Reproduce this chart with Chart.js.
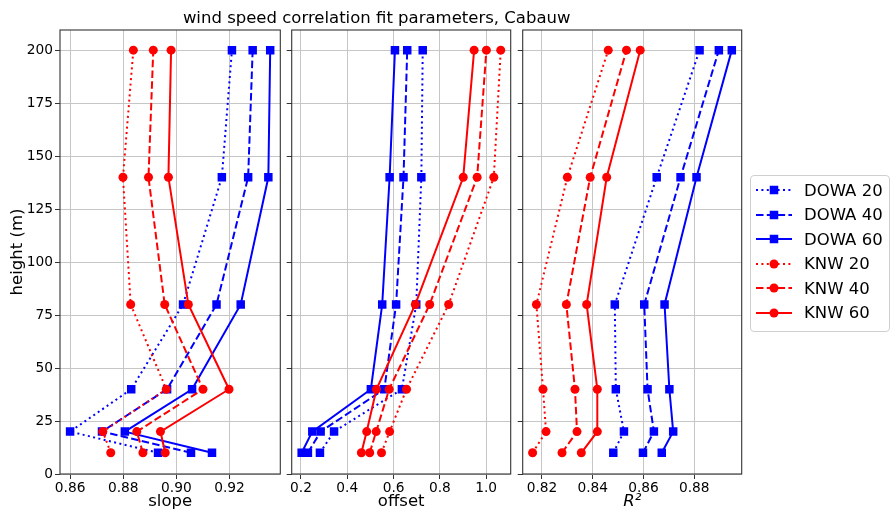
<!DOCTYPE html>
<html>
<head>
<meta charset="utf-8">
<script src="https://cdn.jsdelivr.net/npm/chart.js@4/dist/chart.umd.min.js"></script>
<style>
    body { margin: 0; background: #fff; font-family: "DejaVu Sans", sans-serif; }
    #page { position: relative; width: 891px; height: 515px; overflow: hidden; }
    #page canvas { position: absolute; left: 0; top: 0; }
    #title {
        position: absolute; left: 176.7px; width: 400px; top: 7.6px;
        text-align: center; font-size: 16.5px; line-height: 20px; color: #000;
    }
    #legend {
        position: absolute; left: 750px; top: 175px; width: 138px; height: 153px;
        border: 1px solid #cfcfcf; border-radius: 4px; padding-top: 2px; box-sizing: content-box;
    }
    .row { display: flex; align-items: center; height: 24.5px; padding-left: 5px; }
    .row svg { width: 36px; height: 14px; margin-right: 12px; }
    .row span { font-size: 16.5px; color: #000; }
</style>
</head>
<body>
<div id="page">
    <canvas id="slopeChart" width="891" height="515"></canvas>
    <canvas id="offsetChart" width="891" height="515"></canvas>
    <canvas id="r2Chart" width="891" height="515"></canvas>
    <div id="title">wind speed correlation fit parameters, Cabauw</div>
    <div id="legend"></div>
</div>
<script>
// ===============================
//  DATA
// ===============================
const heights = [10, 20, 40, 80, 140, 200];

const slopeDowa20 = [0.8931, 0.8600, 0.8830, 0.9025, 0.9171, 0.9209];
const slopeDowa40 = [0.9055, 0.8720, 0.8965, 0.9151, 0.9270, 0.9287];
const slopeDowa60 = [0.9134, 0.8806, 0.9059, 0.9242, 0.9346, 0.9353];
const slopeKnw20  = [0.8753, 0.8723, 0.8962, 0.8828, 0.8799, 0.8838];
const slopeKnw40  = [0.8874, 0.8851, 0.9100, 0.8956, 0.8895, 0.8913];
const slopeKnw60  = [0.8958, 0.8940, 0.9198, 0.9045, 0.8970, 0.8980];

const offsetDowa20 = [0.282, 0.343, 0.636, 0.698, 0.720, 0.726];
const offsetDowa40 = [0.230, 0.285, 0.560, 0.611, 0.643, 0.659];
const offsetDowa60 = [0.203, 0.249, 0.502, 0.551, 0.583, 0.606];
const offsetKnw20  = [0.548, 0.583, 0.656, 0.838, 1.033, 1.063];
const offsetKnw40  = [0.497, 0.525, 0.581, 0.756, 0.961, 1.001];
const offsetKnw60  = [0.461, 0.484, 0.526, 0.694, 0.901, 0.948];

const r2Dowa20 = [0.8481, 0.8523, 0.8491, 0.8487, 0.8652, 0.8821];
const r2Dowa40 = [0.8598, 0.8641, 0.8616, 0.8603, 0.8746, 0.8897];
const r2Dowa60 = [0.8672, 0.8717, 0.8702, 0.8683, 0.8809, 0.8948];
const r2Knw20  = [0.8163, 0.8216, 0.8204, 0.8178, 0.8300, 0.8461];
const r2Knw40  = [0.8279, 0.8338, 0.8330, 0.8296, 0.8390, 0.8533];
const r2Knw60  = [0.8355, 0.8418, 0.8418, 0.8376, 0.8455, 0.8587];

const seriesLabels = ["DOWA 20", "DOWA 40", "DOWA 60", "KNW 20", "KNW 40", "KNW 60"];

// ===============================
//  STYLES
// ===============================
const FONT = "'DejaVu Sans', sans-serif";
const DOTTED = [2, 3.4];
const DASHED = [7.5, 3.3];
const SOLID = [];

const SERIES_STYLE = [
    { color: "#0000ff", dash: DOTTED, point: "rect", radius: 6 },
    { color: "#0000ff", dash: DASHED, point: "rect", radius: 6 },
    { color: "#0000ff", dash: SOLID,  point: "rect", radius: 6 },
    { color: "#ff0000", dash: DOTTED, point: "circle", radius: 4.5 },
    { color: "#ff0000", dash: DASHED, point: "circle", radius: 4.5 },
    { color: "#ff0000", dash: SOLID,  point: "circle", radius: 4.5 }
];

// box round each panel, like the matplotlib spines
const framePlugin = {
    id: "frame",
    afterDraw(chart) {
        const a = chart.chartArea;
        const ctx = chart.ctx;
        ctx.save();
        ctx.strokeStyle = "#333";
        ctx.lineWidth = 1.1;
        ctx.strokeRect(a.left, a.top, a.right - a.left, a.bottom - a.top);
        ctx.restore();
    }
};

function makeDatasets(seriesValues) {
    return seriesValues.map((vals, i) => {
        const s = SERIES_STYLE[i];
        return {
            label: seriesLabels[i],
            data: heights.map((h, j) => ({ x: vals[j], y: h })),
            showLine: true,
            borderColor: s.color,
            backgroundColor: s.color,
            borderWidth: 2,
            borderDash: s.dash,
            pointStyle: s.point,
            pointRadius: s.radius,
            pointHoverRadius: s.radius,
            pointBorderWidth: 0,
            tension: 0,
            order: seriesValues.length - i
        };
    });
}

function yAxis(withLabels) {
    return {
        type: "linear",
        min: 0,
        max: 209.5,
        ticks: {
            stepSize: 25,
            includeBounds: false,
            display: withLabels,
            font: { family: FONT, size: 13.75 },
            color: "#000",
            padding: 2
        },
        grid: { color: "#c6c6c6", tickColor: "#333", tickLength: 5 },
        border: { display: false },
        title: {
            display: withLabels,
            text: "height (m)",
            font: { family: FONT, size: 16.5 },
            color: "#000",
            padding: { top: 7.6 }
        },
        afterFit(scale) { scale.width = withLabels ? 60 : 5; }
    };
}

function xAxis(min, max, step, decimals, label, italic) {
    return {
        type: "linear",
        min: min,
        max: max,
        ticks: {
            stepSize: step,
            includeBounds: false,
            maxRotation: 0,
            callback: v => Number(v).toFixed(decimals),
            font: { family: FONT, size: 13.75 },
            color: "#000",
            padding: 1
        },
        grid: { color: "#c6c6c6", tickColor: "#333", tickLength: 5 },
        border: { display: false },
        title: {
            display: true,
            text: label,
            font: { family: FONT, size: 16.5, style: italic ? "italic" : "normal" },
            color: "#000",
            padding: { top: 0, bottom: 3 }
        },
        afterFit(scale) { scale.height = 41; }
    };
}

function buildPanel(canvasId, seriesValues, xOpts, withYLabels, padLeft, padRight) {
    return new Chart(document.getElementById(canvasId), {
        type: "scatter",
        data: { datasets: makeDatasets(seriesValues) },
        options: {
            responsive: false,
            animation: false,
            layout: { padding: { left: padLeft, right: padRight, top: 30, bottom: 0 } },
            plugins: { legend: { display: false }, tooltip: { enabled: false } },
            scales: { x: xOpts, y: yAxis(withYLabels) }
        },
        plugins: [framePlugin]
    });
}

// ===============================
//  LEGEND
// ===============================
function buildLegend() {
    const box = document.getElementById("legend");
    seriesLabels.forEach((label, i) => {
        const s = SERIES_STYLE[i];
        const marker = s.point === "rect"
            ? `<rect x="${18 - 4.25}" y="${7 - 4.25}" width="8.5" height="8.5" fill="${s.color}"/>`
            : `<circle cx="18" cy="7" r="4.5" fill="${s.color}"/>`;
        const row = document.createElement("div");
        row.className = "row";
        row.innerHTML = `
            <svg viewBox="0 0 36 14">
                <line x1="0" y1="7" x2="36" y2="7" stroke="${s.color}" stroke-width="2"
                      stroke-dasharray="${s.dash.length ? s.dash.join(" ") : "none"}"/>
                ${marker}
            </svg>
            <span>${label}</span>`;
        box.appendChild(row);
    });
}

// ===============================
//  BUILD
// ===============================
buildPanel("slopeChart",
    [slopeDowa20, slopeDowa40, slopeDowa60, slopeKnw20, slopeKnw40, slopeKnw60],
    xAxis(0.8562, 0.9391, 0.02, 2, "slope", false), true, 0, 891 - 280.3);

buildPanel("offsetChart",
    [offsetDowa20, offsetDowa40, offsetDowa60, offsetKnw20, offsetKnw40, offsetKnw60],
    xAxis(0.160, 1.106, 0.2, 1, "offset", false), false, 286.7, 891 - 510.7);

buildPanel("r2Chart",
    [r2Dowa20, r2Dowa40, r2Dowa60, r2Knw20, r2Knw40, r2Knw60],
    xAxis(0.8124, 0.8987, 0.02, 2, "R²", true), false, 517.7, 891 - 741.7);

buildLegend();
</script>
</body>
</html>
